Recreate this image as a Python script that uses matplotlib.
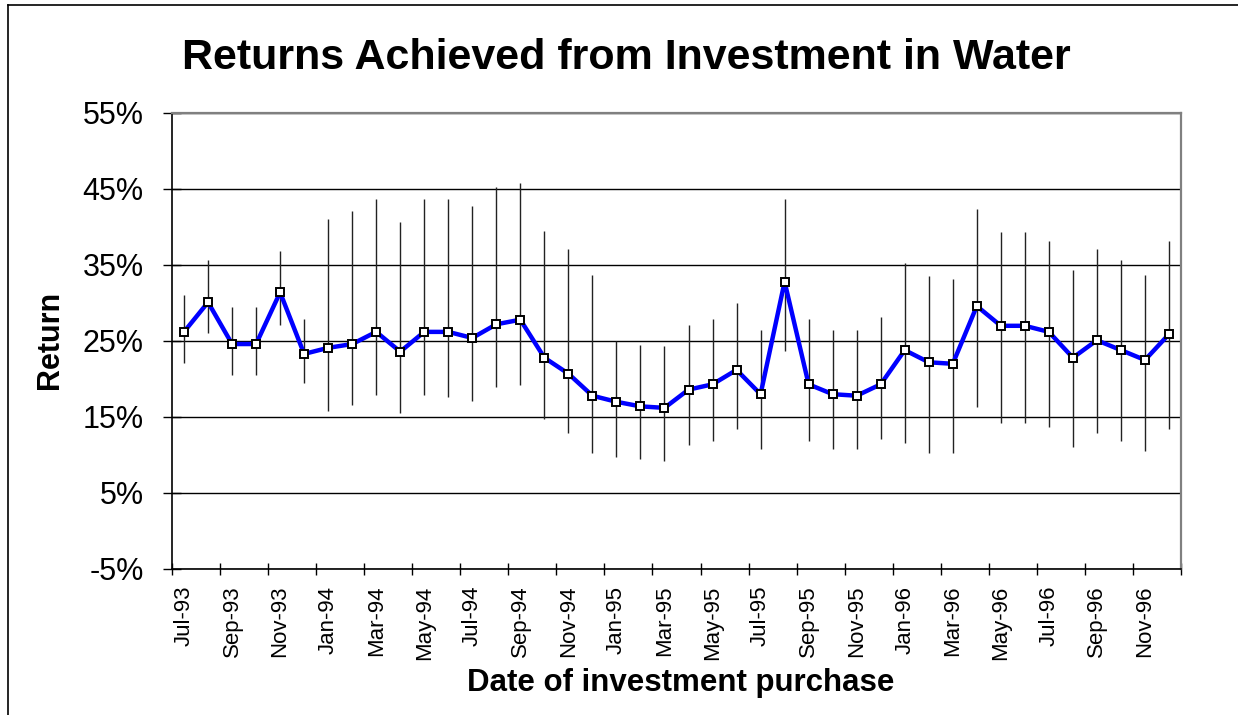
import matplotlib
matplotlib.use("Agg")
import matplotlib.pyplot as plt
from matplotlib.lines import Line2D
from matplotlib.ticker import FixedLocator, FuncFormatter

plt.rcParams['font.family'] = ['Liberation Sans', 'DejaVu Sans']

months = ["Jul-93", "Aug-93", "Sep-93", "Oct-93", "Nov-93", "Dec-93",
          "Jan-94", "Feb-94", "Mar-94", "Apr-94", "May-94", "Jun-94",
          "Jul-94", "Aug-94", "Sep-94", "Oct-94", "Nov-94", "Dec-94",
          "Jan-95", "Feb-95", "Mar-95", "Apr-95", "May-95", "Jun-95",
          "Jul-95", "Aug-95", "Sep-95", "Oct-95", "Nov-95", "Dec-95",
          "Jan-96", "Feb-96", "Mar-96", "Apr-96", "May-96", "Jun-96",
          "Jul-96", "Aug-96", "Sep-96", "Oct-96", "Nov-96", "Dec-96"]

returns = [26.2, 30.1, 24.6, 24.6, 31.4, 23.3, 24.1, 24.6, 26.2, 23.6,
           26.2, 26.2, 25.4, 27.2, 27.8, 22.8, 20.7, 17.8, 17.0, 16.4,
           16.2, 18.6, 19.3, 21.2, 18.0, 32.8, 19.3, 18.0, 17.8, 19.3,
           23.8, 22.2, 22.0, 29.6, 27.0, 27.0, 26.2, 22.8, 25.1, 23.8,
           22.5, 25.9]

highs = [31.1, 35.6, 29.5, 29.5, 36.9, 27.9, 41.1, 42.1, 43.7, 40.6,
         43.7, 43.7, 42.7, 45.3, 45.8, 39.5, 37.1, 33.7, 25.0, 24.5,
         24.3, 27.1, 27.9, 30.0, 26.4, 43.7, 27.9, 26.4, 26.4, 28.2,
         35.3, 33.5, 33.2, 42.4, 39.3, 39.3, 38.2, 34.3, 37.1, 35.6,
         33.7, 38.2]

lows = [22.1, 26.0, 20.5, 20.5, 27.1, 19.5, 15.8, 16.6, 17.9, 15.5,
        17.9, 17.6, 17.1, 18.9, 19.2, 14.7, 12.9, 10.3, 9.7, 9.5,
        9.2, 11.3, 11.8, 13.4, 10.8, 23.7, 11.8, 10.8, 10.8, 12.1,
        11.6, 10.3, 10.3, 16.3, 14.2, 14.2, 13.7, 11.1, 12.9, 11.8,
        10.5, 13.4]

y_ticks = [-5, 5, 15, 25, 35, 45, 55]

fig = plt.figure(figsize=(12.38, 7.15), dpi=100)
ax = fig.add_axes([172 / 1238, 1 - 569 / 715, (1181 - 172) / 1238, (569 - 113) / 715])

x = list(range(len(months)))

ax.vlines(x, lows, highs, colors='#222222', linewidth=1.0, zorder=2)
ax.plot(x, returns, color='#0000FF', linewidth=3.2, zorder=3,
        marker='s', markersize=5.5, markerfacecolor='white',
        markeredgecolor='black', markeredgewidth=1.4)

ax.set_xlim(-0.5, len(months) - 0.5)
ax.set_ylim(-5, 55)

ax.yaxis.set_major_locator(FixedLocator(y_ticks))
ax.yaxis.set_major_formatter(FuncFormatter(lambda v, p: f"{v:.0f}%"))
ax.grid(axis='y', color='black', linewidth=1.0, zorder=1)
ax.set_axisbelow(True)

ax.set_xticks(x[::2])
ax.set_xticklabels(months[::2], rotation=90)
ax.set_xticks([i - 0.5 for i in range(0, len(months) + 1, 2)], minor=True)
ax.tick_params(axis='x', which='major', length=0, pad=12, labelsize=16)
ax.tick_params(axis='x', which='minor', direction='inout', length=8.6, width=1.0)
ax.tick_params(axis='y', which='major', direction='inout', length=13, width=1.0,
               pad=14, labelsize=22)

for side in ['left', 'bottom']:
    ax.spines[side].set_color('black')
    ax.spines[side].set_linewidth(1.2)
for side in ['top', 'right']:
    ax.spines[side].set_color('#808080')
    ax.spines[side].set_linewidth(1.6)

fig.text(626 / 1238, 1 - 58 / 715, "Returns Achieved from Investment in Water",
         ha='center', va='center', fontsize=31, fontweight='bold')
fig.text(681 / 1238, 1 - 683 / 715, "Date of investment purchase",
         ha='center', va='center', fontsize=22.5, fontweight='bold')
fig.text(50 / 1238, 1 - 340 / 715, "Return", rotation=90,
         ha='center', va='center', fontsize=22, fontweight='bold')

x0 = 8 / 1238
y0 = 1 - 5 / 715
fig.add_artist(Line2D([x0, 1.0], [y0, y0], transform=fig.transFigure, color='black', linewidth=1.2))
fig.add_artist(Line2D([x0, x0], [0.0, y0], transform=fig.transFigure, color='black', linewidth=1.2))

fig.savefig("out.png", dpi=100)
